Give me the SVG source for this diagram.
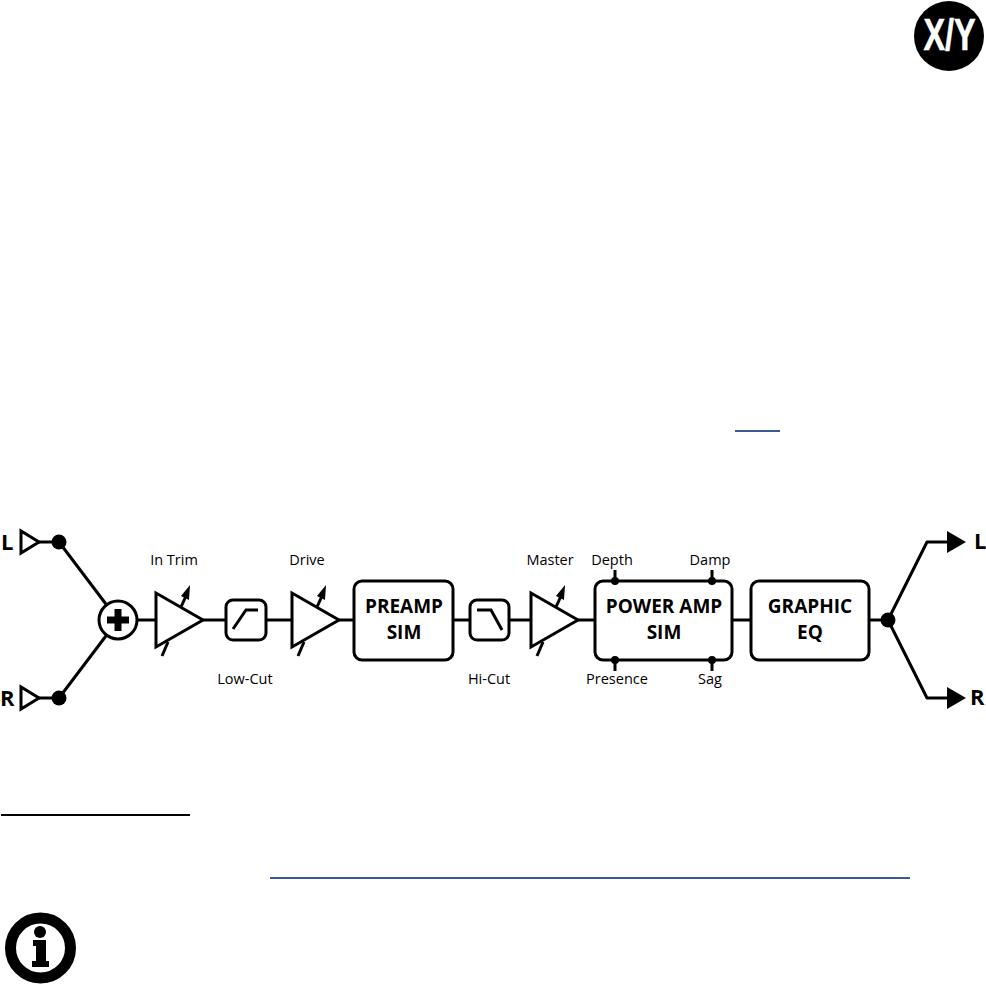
<svg xmlns="http://www.w3.org/2000/svg" width="986" height="984" viewBox="0 0 986 984">
<style>
text{font-family:"Open Sans","Liberation Sans",sans-serif;fill:#000}
.lab{font-size:14.5px;text-anchor:middle}
.big{font-size:19px;font-weight:700;text-anchor:middle}
.io{font-size:22px;font-weight:700}
.w{fill:none;stroke:#000;stroke-width:3;stroke-linejoin:round}
.b{fill:#fff;stroke:#000;stroke-width:3}
.tri{fill:#fff;stroke:#000;stroke-width:3;stroke-linejoin:miter}
.thin{fill:none;stroke:#000;stroke-width:3}
.k{fill:#000}
</style>
<defs>
<g id="amp">
<polygon class="tri" points="0,-27 0,27 47,0"/>
<path class="thin" d="M25,-13 L30,-24"/>
<polygon class="k" points="25,-24 33,-20 34,-35"/>
<path class="thin" d="M6,36 L12,22"/>
</g>
</defs>
<rect width="986" height="984" fill="#fff"/>
<g id="connectors">
<path class="w" d="M39,542 H59 L118,620 L59,698 H39"/>
<path class="w" d="M137,620 H156 M203,620 H226 M266,620 H292 M339,620 H354 M453,620 H470 M509,620 H531 M578,620 H595 M732,620 H751 M869,620 H888"/>
<path class="w" d="M948,542 H927 L888,620 L927,698 H948"/>
<path class="w" d="M615,570 V581 M712,570 V581 M615,660 V671 M712,660 V671"/>
</g>
<g id="input-l"><polygon class="tri" points="21,531 21,553 39,542"/><circle class="k" cx="59" cy="542" r="7.5"/><text class="io" x="1" y="550">L</text></g>
<g id="input-r"><polygon class="tri" points="21,687 21,709 39,698"/><circle class="k" cx="59" cy="698" r="7.5"/><text class="io" x="0" y="706">R</text></g>
<g id="sum"><circle class="b" cx="118" cy="620" r="19"/><path d="M118,609 V631 M107,620 H129" stroke="#000" stroke-width="7" fill="none"/></g>
<g id="in-trim"><use href="#amp" x="156" y="620"/><text class="lab" x="174" y="565">In Trim</text></g>
<g id="low-cut"><rect class="b" x="226" y="600" width="40" height="40" rx="7"/><path class="thin" d="M233,629 L246,610 H258"/><text class="lab" x="245" y="684">Low-Cut</text></g>
<g id="drive"><use href="#amp" x="292" y="620"/><text class="lab" x="307" y="565">Drive</text></g>
<g id="preamp"><rect class="b" x="354" y="581" width="99" height="79" rx="8"/><text class="big" x="404" y="613">PREAMP</text><text class="big" x="404" y="639">SIM</text></g>
<g id="hi-cut"><rect class="b" x="470" y="600" width="39" height="40" rx="7"/><path class="thin" d="M477,610 H491 L502,630"/><text class="lab" x="489" y="684">Hi-Cut</text></g>
<g id="master"><use href="#amp" x="531" y="620"/><text class="lab" x="550" y="565">Master</text></g>
<g id="power-amp"><rect class="b" x="595" y="581" width="137" height="79" rx="8"/>
<circle class="k" cx="615" cy="581" r="4"/><circle class="k" cx="712" cy="581" r="4"/><circle class="k" cx="615" cy="660" r="4"/><circle class="k" cx="712" cy="660" r="4"/>
<text class="big" x="664" y="613">POWER AMP</text><text class="big" x="664" y="639">SIM</text>
<text class="lab" x="612" y="565">Depth</text><text class="lab" x="710" y="565">Damp</text><text class="lab" x="617" y="684">Presence</text><text class="lab" x="710" y="684">Sag</text></g>
<g id="graphic-eq"><rect class="b" x="751" y="581" width="118" height="79" rx="8"/><text class="big" x="810" y="613">GRAPHIC</text><text class="big" x="810" y="639">EQ</text></g>
<g id="split"><circle class="k" cx="888" cy="620" r="7.5"/></g>
<g id="output-l"><polygon class="k" points="947,531 947,553 966,542"/><text class="io" x="974" y="549">L</text></g>
<g id="output-r"><polygon class="k" points="947,687 947,709 966,698"/><text class="io" x="970" y="705">R</text></g>
<g id="xy-badge"><circle class="k" cx="949" cy="36" r="35"/><text transform="translate(949.5,50) scale(.72,1)" font-size="45" font-weight="700" text-anchor="middle" style="fill:#fff;stroke:#fff;stroke-width:.6;font-family:'Liberation Sans',sans-serif">X/Y</text></g>
<g id="info-icon"><circle cx="40.5" cy="948" r="30" fill="none" stroke="#000" stroke-width="11"/><circle class="k" cx="40" cy="932" r="6"/><path class="k" d="M33,940 H46 V961 H49 V967 H32 V961 H36 V946 H33 Z"/></g>
<rect x="735" y="430" width="45" height="2" fill="#3b5a94"/>
<rect x="1" y="814" width="189" height="2" fill="#000"/>
<rect x="270" y="877" width="640" height="2" fill="#3b5a94"/>
</svg>
